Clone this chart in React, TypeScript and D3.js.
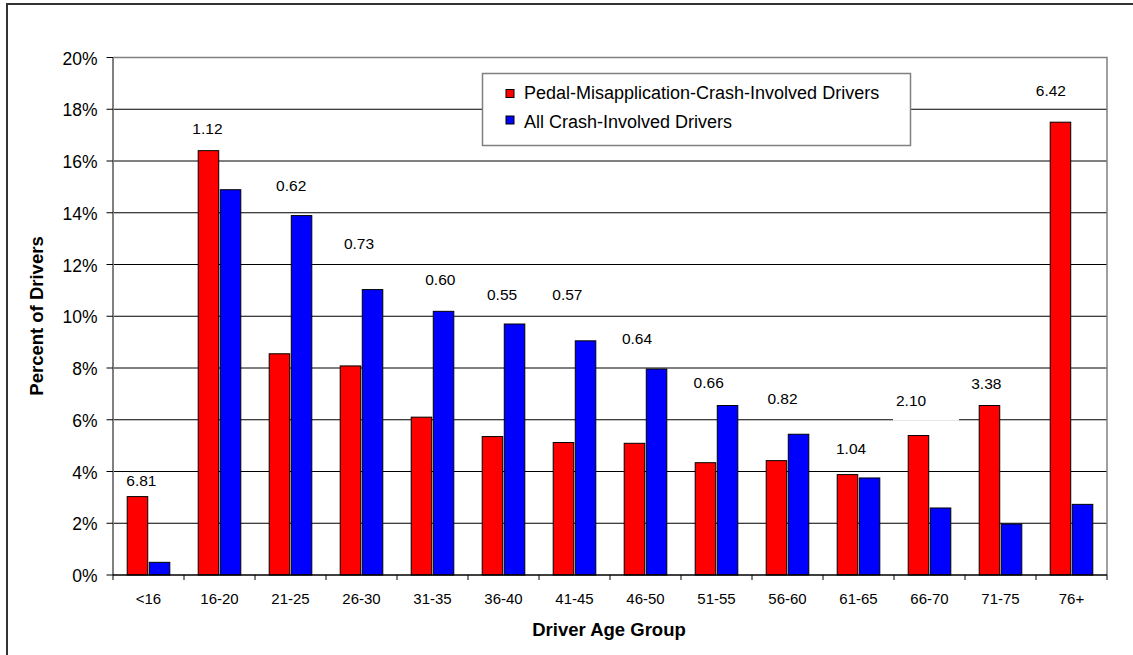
import React from "react";
import * as d3 from "d3";

const categories = ["<16", "16-20", "21-25", "26-30", "31-35", "36-40", "41-45", "46-50", "51-55", "56-60", "61-65", "66-70", "71-75", "76+"];
const pedalValues = [3.03, 16.4, 8.55, 8.08, 6.1, 5.35, 5.12, 5.09, 4.34, 4.42, 3.88, 5.39, 6.55, 17.5];
const allValues = [0.49, 14.89, 13.89, 11.03, 10.19, 9.7, 9.05, 7.96, 6.55, 5.44, 3.75, 2.59, 1.97, 2.73];
const ratioLabels = ["6.81", "1.12", "0.62", "0.73", "0.60", "0.55", "0.57", "0.64", "0.66", "0.82", "1.04", "2.10", "3.38", "6.42"];
// annotation placement: height in percent units, horizontal shift in category steps
const labelLevel = [3.64, 17.25, 15.05, 12.8, 11.41, 10.83, 10.83, 9.13, 7.44, 6.81, 4.87, 6.74, 7.42, 18.72];
const labelShift = [-0.1, -0.17, 0.01, -0.035, 0.11, -0.02, -0.1, -0.12, -0.11, -0.07, -0.105, -0.26, -0.2, -0.29];
const seriesNames = ["Pedal-Misapplication-Crash-Involved Drivers", "All Crash-Involved Drivers"];
const seriesColors = ["#FF0000", "#0000FF"];
const yTicks = [0, 2, 4, 6, 8, 10, 12, 14, 16, 18, 20];

const W = 1133;
const H = 655;
const FONT = "'Liberation Sans', Arial, sans-serif";

export default function App() {
  const left = 113, right = 1107, top = 57.5, bottom = 575;
  const x = d3.scaleBand<string>().domain(categories).range([left, right]).paddingInner(0.4).paddingOuter(0.2);
  const xs = d3.scaleBand<number>().domain([0, 1]).range([0, x.bandwidth()]).paddingInner(0.07);
  const y = d3.scaleLinear().domain([0, 20]).range([bottom, top]);
  const step = x.step();
  const series = [pedalValues, allValues];
  const boundaries = d3.range(categories.length + 1).map((i) => left + i * step);

  return (
    <div style={{ position: "absolute", left: 0, top: 0 }}>
      <svg width={W} height={H} style={{ display: "block", background: "#fff" }} fontFamily={FONT}>
        <rect x={0} y={0} width={W} height={H} fill="#fff" />
        {/* outer chart border */}
        <path d={`M7,${H + 5}V4H${W + 5}`} fill="none" stroke="#333" strokeWidth={2} />
        {/* gridlines */}
        {yTicks.filter((t) => t > 0 && t < 20).map((t) => (
          <line key={t} x1={left} x2={right} y1={y(t)} y2={y(t)} stroke="#000" strokeWidth={1} />
        ))}
        {/* plot border top/right */}
        <path d={`M${left},${y(20)}H${right}V${bottom}`} fill="none" stroke="#808080" strokeWidth={1.5} />
        {/* bars */}
        {series.map((vals, si) =>
          categories.map((c, i) => (
            <rect
              key={`${si}-${c}`}
              x={(x(c) as number) + (xs(si) as number)}
              y={y(vals[i])}
              width={xs.bandwidth()}
              height={bottom - y(vals[i])}
              fill={seriesColors[si]}
              stroke="#000"
              strokeWidth={1}
            />
          ))
        )}
        {/* y axis */}
        <line x1={left} x2={left} y1={top} y2={bottom} stroke="#808080" strokeWidth={2} />
        {yTicks.map((t) => (
          <g key={t}>
            <line x1={left - 6.5} x2={left} y1={y(t)} y2={y(t)} stroke="#000" strokeWidth={1} />
            <text x={97.5} y={y(t) + 1} textAnchor="end" dominantBaseline="central" fontSize={17.5} fill="#000">
              {t}%
            </text>
          </g>
        ))}
        {/* x axis */}
        <line x1={left} x2={right} y1={bottom} y2={bottom} stroke="#000" strokeWidth={1.5} />
        {boundaries.map((b, i) => (
          <line key={i} x1={b} x2={b} y1={bottom} y2={bottom + 5} stroke="#000" strokeWidth={1} />
        ))}
        {categories.map((c) => (
          <text key={c} x={(x(c) as number) + x.bandwidth() / 2} y={603.5} textAnchor="middle" fontSize={15} fill="#000">
            {c}
          </text>
        ))}
        {/* ratio labels */}
        {categories.map((c, i) => {
          const lx = (x(c) as number) + x.bandwidth() / 2 + labelShift[i] * step;
          const ly = y(labelLevel[i]);
          return (
            <g key={`lab-${c}`}>
              {ratioLabels[i] === "2.10" && <rect x={lx - 18} y={ly - 12} width={66} height={32} fill="#fff" />}
              <text x={lx} y={ly} textAnchor="middle" dominantBaseline="central" fontSize={15.5} fill="#000">
                {ratioLabels[i]}
              </text>
            </g>
          );
        })}
        {/* legend */}
        <rect x={482.5} y={73.5} width={428} height={72} fill="#fff" stroke="#808080" strokeWidth={1.5} />
        {seriesNames.map((n, i) => (
          <g key={n}>
            <rect x={506} y={89.5 + i * 26.5} width={8} height={8} fill={seriesColors[i]} stroke="#000" strokeWidth={1} />
            <text x={524} y={99 + i * 28.5} fontSize={18} fill="#000">
              {n}
            </text>
          </g>
        ))}
        {/* axis titles */}
        <text x={609} y={636} textAnchor="middle" fontSize={18.5} fontWeight="bold" fill="#000">
          Driver Age Group
        </text>
        <text
          transform={`translate(43,316) rotate(-90)`}
          textAnchor="middle"
          fontSize={18.5}
          fontWeight="bold"
          fill="#000"
        >
          Percent of Drivers
        </text>
      </svg>
    </div>
  );
}
